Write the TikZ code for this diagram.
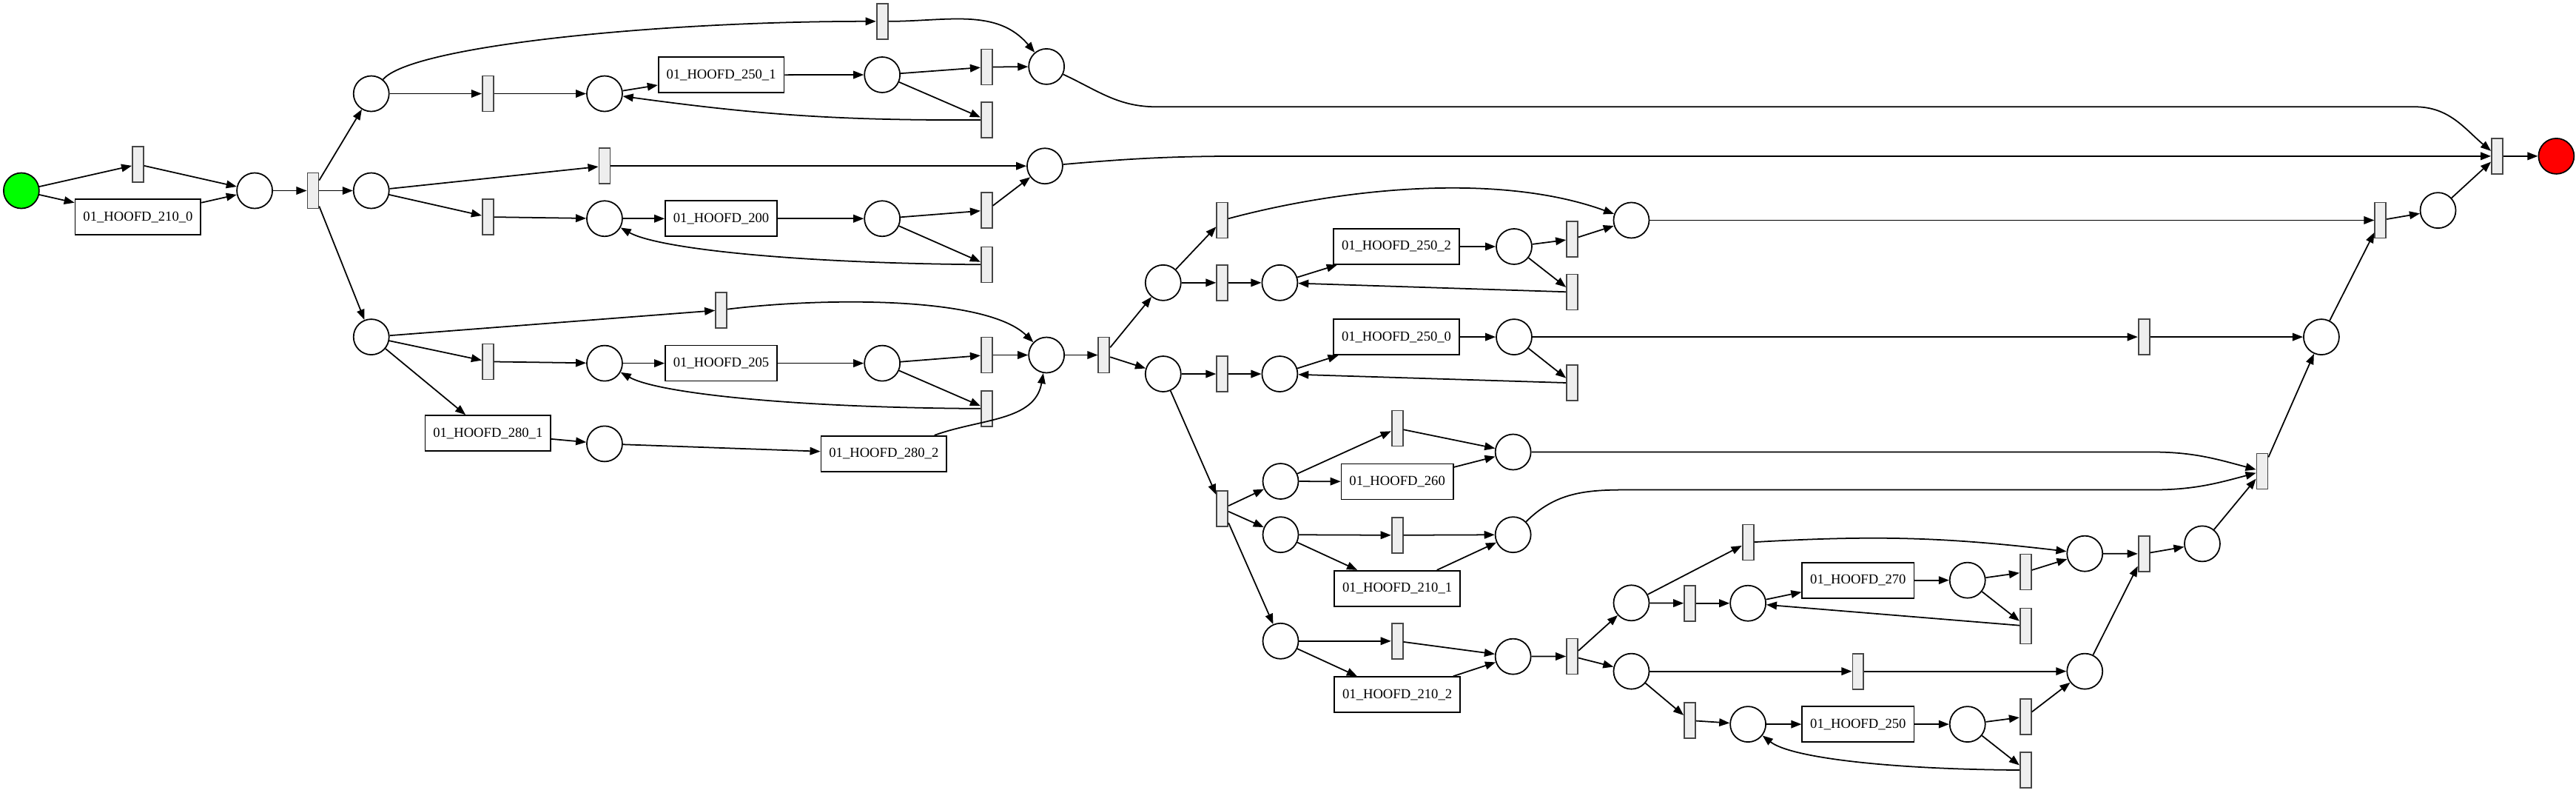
\documentclass[tikz,border=0pt]{standalone}
\usepackage{fontspec}
\setmainfont{Liberation Serif}
\usepackage{tikz}
\usetikzlibrary{arrows.meta}
\usepackage{xcolor}
\definecolor{sourcecolor}{RGB}{0,255,0}
\definecolor{sinkcolor}{RGB}{255,0,0}
\definecolor{silentcolor}{RGB}{238,238,238}
\definecolor{silentborder}{RGB}{70,70,70}

\begin{document}
\begin{tikzpicture}[x=0.0222cm, y=0.0222cm]
  \tikzset{
    place/.style={
      draw,
      circle,
      minimum size=0.48cm,
      inner sep=0pt,
      line width=0.5pt
    },
    source/.style={place, fill=sourcecolor},
    sink/.style={place, fill=sinkcolor},
    silent/.style={
      draw=silentborder,
      fill=silentcolor,
      minimum width=0.15cm,
      minimum height=0.48cm,
      inner sep=0pt,
      line width=0.5pt
    },
    activity/.style={
      draw,
      minimum height=0.48cm,
      inner xsep=3.1pt,
      inner ysep=0pt,
      line width=0.5pt,
      font=\fontsize{5.3}{6}\selectfont
    },
    arc/.style={
      -{Triangle[length=4pt,width=3pt]},
      line width=0.5pt
    }
  }
  \useasboundingbox (0,0) rectangle (1568,-482);

  % Start and first split
  \node[source] at (13, -116) (start) {};
  \node[silent] at (84, -100) (t1) {};
  \node[activity] at (84, -132) (a210_0) {01\_HOOFD\_210\_0};
  \node[place] at (155, -116) (p1) {};
  \node[silent] at (190.5, -116) (t2) {};
  \node[place] at (226, -57) (pA) {};
  \node[place] at (226, -116) (pB) {};
  \node[place] at (226, -205) (pC) {};

  % Upper loop 250_1
  \node[silent] at (537, -13) (tA0) {};
  \node[silent] at (297, -57) (tA1) {};
  \node[place] at (368, -57) (pA1) {};
  \node[activity] at (439, -45.6) (a250_1) {01\_HOOFD\_250\_1};
  \node[place] at (537, -45.5) (pA2) {};
  \node[silent] at (600.6, -40.8) (tA2) {};
  \node[silent] at (600.6, -73) (tA3) {};
  \node[place] at (637, -40.5) (pA3) {};

  % Middle loop 200
  \node[silent] at (368, -101) (tB0) {};
  \node[silent] at (297, -132) (tB1) {};
  \node[place] at (368, -133) (pB1) {};
  \node[activity] at (439, -133) (a200) {01\_HOOFD\_200};
  \node[place] at (537, -133) (pB2) {};
  \node[silent] at (600.6, -128) (tB2) {};
  \node[silent] at (600.6, -161) (tB3) {};
  \node[place] at (636, -101) (pB3) {};

  % Lower loop 205 and 280
  \node[silent] at (439, -188.6) (tC0) {};
  \node[silent] at (297, -220) (tC1) {};
  \node[place] at (368, -221) (pC1) {};
  \node[activity] at (439, -221) (a205) {01\_HOOFD\_205};
  \node[place] at (537, -221) (pC2) {};
  \node[silent] at (600.6, -216) (tC2) {};
  \node[silent] at (600.6, -248.6) (tC3) {};
  \node[place] at (637, -216) (pC3) {};
  \node[activity] at (297, -263.6) (a280_1) {01\_HOOFD\_280\_1};
  \node[place] at (368, -270) (pC4) {};
  \node[activity] at (538, -276) (a280_2) {01\_HOOFD\_280\_2};
  \node[silent] at (672, -216) (t3) {};

  % Loops 250_2 and 250_0
  \node[place] at (708, -172) (pD) {};
  \node[place] at (708, -227.5) (pE) {};
  \node[silent] at (744, -134) (tD0) {};
  \node[silent] at (744, -172) (tD1) {};
  \node[place] at (779, -172) (pD1) {};
  \node[activity] at (850, -150) (a250_2) {01\_HOOFD\_250\_2};
  \node[place] at (921.6, -150) (pD2) {};
  \node[silent] at (957, -145.5) (tD2) {};
  \node[silent] at (957, -177.7) (tD3) {};
  \node[place] at (993, -134) (pD3) {};
  \node[silent] at (744, -227.5) (tE1) {};
  \node[place] at (779, -227.5) (pE1) {};
  \node[activity] at (850, -205) (a250_0) {01\_HOOFD\_250\_0};
  \node[place] at (921.6, -205) (pE2) {};
  \node[silent] at (957, -233) (tE3) {};
  \node[silent] at (1305, -205) (tE0) {};
  \node[place] at (1413, -205) (pE3) {};

  % Three way split 260, 210_1, 210_2
  \node[silent] at (744, -309.5) (tF) {};
  \node[place] at (779.5, -292.8) (pF1) {};
  \node[place] at (779.5, -325.3) (pF2) {};
  \node[place] at (779.5, -390) (pF3) {};
  \node[silent] at (850.5, -260.6) (tF1) {};
  \node[activity] at (850.5, -293) (a260) {01\_HOOFD\_260};
  \node[place] at (921, -275) (pF4) {};
  \node[silent] at (850.5, -325.6) (tF2) {};
  \node[activity] at (850.5, -358) (a210_1) {01\_HOOFD\_210\_1};
  \node[place] at (921, -325.3) (pF5) {};
  \node[silent] at (850.5, -390) (tF3) {};
  \node[activity] at (850.5, -422.6) (a210_2) {01\_HOOFD\_210\_2};
  \node[place] at (921, -399.4) (pF6) {};
  \node[silent] at (957, -399.3) (t4) {};

  % Loops 270 and 250
  \node[place] at (993, -366.8) (pG) {};
  \node[place] at (993, -408.4) (pH) {};
  \node[silent] at (1064, -330) (tG0) {};
  \node[silent] at (1028.6, -367) (tG1) {};
  \node[place] at (1064, -367) (pG1) {};
  \node[activity] at (1131, -353) (a270) {01\_HOOFD\_270};
  \node[place] at (1197.6, -353) (pG2) {};
  \node[silent] at (1233, -348) (tG2) {};
  \node[silent] at (1233, -380.8) (tG3) {};
  \node[place] at (1269, -336.8) (pG3) {};
  \node[silent] at (1131, -408.4) (tH0) {};
  \node[silent] at (1028.6, -438.3) (tH1) {};
  \node[place] at (1064, -440.6) (pH1) {};
  \node[activity] at (1131, -440.6) (a250) {01\_HOOFD\_250};
  \node[place] at (1197.6, -440.6) (pH2) {};
  \node[silent] at (1233, -436) (tH2) {};
  \node[silent] at (1233, -468.5) (tH3) {};
  \node[place] at (1269, -408.4) (pH3) {};

  % Joins towards the end
  \node[silent] at (1305, -336.9) (t5) {};
  \node[place] at (1340.5, -330.8) (p5) {};
  \node[silent] at (1377, -286.7) (t6) {};
  \node[silent] at (1449, -134) (t7) {};
  \node[place] at (1484, -128) (p7) {};
  \node[silent] at (1520, -95) (t8) {};
  \node[sink] at (1556, -95) (end) {};

  % Arcs: start
  \draw[arc] (start) -- (t1);
  \draw[arc] (start) -- (a210_0);
  \draw[arc] (t1) -- (p1);
  \draw[arc] (a210_0) -- (p1);
  \draw[arc] (p1) -- (t2);
  \draw[arc] (t2) -- (pA);
  \draw[arc] (t2) -- (pB);
  \draw[arc] (t2) -- (pC);

  % Arcs: upper loop
  \draw[arc] (pA) .. controls (250, -28) and (400, -13) .. (tA0);
  \draw[arc] (tA0) to[out=0, in=130] (pA3);
  \draw[arc] (pA) -- (tA1);
  \draw[arc] (tA1) -- (pA1);
  \draw[arc] (pA1) -- (a250_1);
  \draw[arc] (a250_1) -- (pA2);
  \draw[arc] (pA2) -- (tA2);
  \draw[arc] (pA2) -- (tA3);
  \draw[arc] (tA3) to[bend left=4] (pA1);
  \draw[arc] (tA2) -- (pA3);
  \draw[arc] (pA3) to[out=-25, in=180] (704, -65) -- (1470, -65) to[out=0, in=140] (t8);

  % Arcs: middle loop
  \draw[arc] (pB) -- (tB0);
  \draw[arc] (pB) -- (tB1);
  \draw[arc] (tB1) -- (pB1);
  \draw[arc] (pB1) -- (a200);
  \draw[arc] (a200) -- (pB2);
  \draw[arc] (pB2) -- (tB2);
  \draw[arc] (pB2) -- (tB3);
  \draw[arc] (tB3) .. controls (480, -160) and (400, -151) .. (pB1);
  \draw[arc] (tB2) -- (pB3);
  \draw[arc] (tB0) -- (pB3);
  \draw[arc] (pB3) to[out=5, in=180] (760, -95) -- (t8);

  % Arcs: lower loop
  \draw[arc] (pC) -- (tC0);
  \draw[arc] (pC) -- (tC1);
  \draw[arc] (pC) -- (a280_1);
  \draw[arc] (tC1) -- (pC1);
  \draw[arc] (pC1) -- (a205);
  \draw[arc] (a205) -- (pC2);
  \draw[arc] (pC2) -- (tC2);
  \draw[arc] (pC2) -- (tC3);
  \draw[arc] (tC3) .. controls (480, -248) and (400, -239) .. (pC1);
  \draw[arc] (tC2) -- (pC3);
  \draw[arc] (tC0) .. controls (500, -181) and (600, -180) .. (pC3);
  \draw[arc] (a280_1) -- (pC4);
  \draw[arc] (pC4) -- (a280_2);
  \draw[arc] (a280_2) to[out=20, in=-100] (pC3);
  \draw[arc] (pC3) -- (t3);
  \draw[arc] (t3) -- (pD);
  \draw[arc] (t3) -- (pE);

  % Arcs: loops 250_2 and 250_0
  \draw[arc] (pD) -- (tD0);
  \draw[arc] (pD) -- (tD1);
  \draw[arc] (tD1) -- (pD1);
  \draw[arc] (pD1) -- (a250_2);
  \draw[arc] (a250_2) -- (pD2);
  \draw[arc] (pD2) -- (tD2);
  \draw[arc] (pD2) -- (tD3);
  \draw[arc] (tD3) -- (pD1);
  \draw[arc] (tD2) -- (pD3);
  \draw[arc] (tD0) to[out=15, in=160, looseness=0.8] (pD3);
  \draw[arc] (pD3) -- (t7);
  \draw[arc] (pE) -- (tE1);
  \draw[arc] (tE1) -- (pE1);
  \draw[arc] (pE1) -- (a250_0);
  \draw[arc] (a250_0) -- (pE2);
  \draw[arc] (pE2) -- (tE3);
  \draw[arc] (tE3) -- (pE1);
  \draw[arc] (pE2) -- (tE0);
  \draw[arc] (tE0) -- (pE3);

  % Arcs: three way split
  \draw[arc] (pE) -- (tF);
  \draw[arc] (tF) -- (pF1);
  \draw[arc] (tF) -- (pF2);
  \draw[arc] (tF) -- (pF3);
  \draw[arc] (pF1) -- (tF1);
  \draw[arc] (pF1) -- (a260);
  \draw[arc] (tF1) -- (pF4);
  \draw[arc] (a260) -- (pF4);
  \draw[arc] (pF2) -- (tF2);
  \draw[arc] (pF2) -- (a210_1);
  \draw[arc] (tF2) -- (pF5);
  \draw[arc] (a210_1) -- (pF5);
  \draw[arc] (pF3) -- (tF3);
  \draw[arc] (pF3) -- (a210_2);
  \draw[arc] (tF3) -- (pF6);
  \draw[arc] (a210_2) -- (pF6);
  \draw[arc] (pF6) -- (t4);
  \draw[arc] (pF4) -- (1310, -275) to[out=0, in=165] (t6);
  \draw[arc] (pF5) to[out=45, in=180] (990, -298) -- (1310, -298) to[out=0, in=195] (t6);

  % Arcs: loops 270 and 250
  \draw[arc] (t4) -- (pG);
  \draw[arc] (t4) -- (pH);
  \draw[arc] (pG) -- (tG0);
  \draw[arc] (pG) -- (tG1);
  \draw[arc] (tG1) -- (pG1);
  \draw[arc] (pG1) -- (a270);
  \draw[arc] (a270) -- (pG2);
  \draw[arc] (pG2) -- (tG2);
  \draw[arc] (pG2) -- (tG3);
  \draw[arc] (tG3) -- (pG1);
  \draw[arc] (tG2) -- (pG3);
  \draw[arc] (tG0) to[bend left=5] (pG3);
  \draw[arc] (pH) -- (tH0);
  \draw[arc] (pH) -- (tH1);
  \draw[arc] (tH1) -- (pH1);
  \draw[arc] (pH1) -- (a250);
  \draw[arc] (a250) -- (pH2);
  \draw[arc] (pH2) -- (tH2);
  \draw[arc] (pH2) -- (tH3);
  \draw[arc] (tH3) .. controls (1150, -468) and (1090, -461) .. (pH1);
  \draw[arc] (tH2) -- (pH3);
  \draw[arc] (tH0) -- (pH3);

  % Arcs: end
  \draw[arc] (pG3) -- (t5);
  \draw[arc] (pH3) -- (t5);
  \draw[arc] (t5) -- (p5);
  \draw[arc] (p5) -- (t6);
  \draw[arc] (t6) -- (pE3);
  \draw[arc] (pE3) -- (t7);
  \draw[arc] (t7) -- (p7);
  \draw[arc] (p7) -- (t8);
  \draw[arc] (t8) -- (end);
\end{tikzpicture}
\end{document}
